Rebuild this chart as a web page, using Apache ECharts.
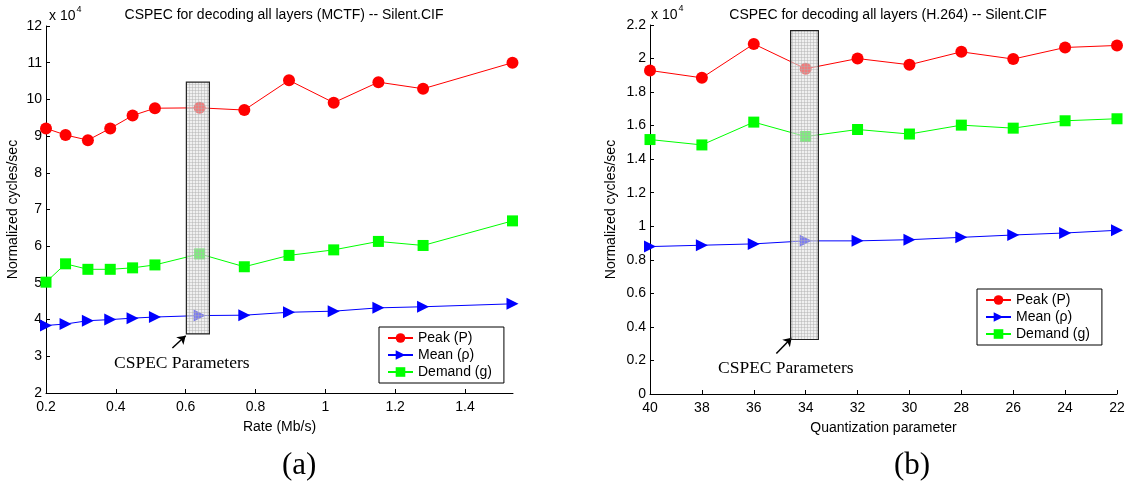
<!DOCTYPE html>
<html>
<head>
<meta charset="utf-8">
<script src="https://cdn.jsdelivr.net/npm/echarts@6/dist/echarts.min.js"></script>
<style>
  html, body { margin: 0; padding: 0; background: #fff; }
  #chart { width: 1128px; height: 481px; }
</style>
</head>
<body>
<div id="chart"></div>
<script>
// (a) MCTF, values in units of 10^4 cycles/sec
const rateMbps = [0.2, 0.256, 0.32, 0.384, 0.448, 0.512, 0.64, 0.768, 0.896, 1.024, 1.152, 1.28, 1.536];
const mctfPeak = [9.21, 9.03, 8.89, 9.21, 9.56, 9.76, 9.77, 9.71, 10.52, 9.91, 10.47, 10.29, 11.0];
const mctfMean = [3.84, 3.88, 3.97, 4.0, 4.04, 4.07, 4.11, 4.12, 4.2, 4.23, 4.32, 4.35, 4.43];
const mctfDemand = [5.02, 5.52, 5.37, 5.37, 5.41, 5.49, 5.79, 5.44, 5.75, 5.9, 6.13, 6.02, 6.69];

// (b) H.264, values in units of 10^4 cycles/sec
const qp = [40, 38, 36, 34, 32, 30, 28, 26, 24, 22];
const h264Peak = [1.929, 1.885, 2.087, 1.939, 2.0, 1.963, 2.04, 1.997, 2.066, 2.078];
const h264Mean = [0.879, 0.887, 0.895, 0.913, 0.913, 0.92, 0.934, 0.948, 0.96, 0.976];
const h264Demand = [1.517, 1.485, 1.621, 1.535, 1.577, 1.55, 1.603, 1.585, 1.629, 1.641];

// highlighted "CSPEC Parameters" boxes [x0, x1, y0, y1]
const boxA = [0.602, 0.668, 3.61, 10.47];
const boxB = [34.58, 33.51, 0.325, 2.166];
const arrowA = [[0.562, 3.225], [0.6, 3.56]];
const arrowB = [[35.13, 0.242], [34.54, 0.335]];

const names = ['Peak (P)', 'Mean (ρ)', 'Demand (g)'];

function zip(xs, ys) { return xs.map((x, i) => [x, ys[i]]); }

// little grid texture for the boxes
const pat = document.createElement('canvas');
pat.width = 3; pat.height = 3;
const pc = pat.getContext('2d');
pc.fillStyle = 'rgba(228,228,228,0.55)';
pc.fillRect(0, 0, 3, 3);
pc.fillStyle = 'rgba(175,175,175,0.45)';
pc.fillRect(0, 0, 3, 1);
pc.fillRect(0, 0, 1, 3);

const font = 'Liberation Sans, Arial, sans-serif';

function lineSeries(name, data, idx, kind) {
  const s = {
    name: name,
    type: 'line',
    xAxisIndex: idx,
    yAxisIndex: idx,
    data: data,
    lineStyle: { width: 1 },
    emphasis: { disabled: true },
    animation: false,
    z: 2
  };
  if (kind === 'peak') {
    s.color = '#ff0000'; s.symbol = 'circle'; s.symbolSize = 12;
  } else if (kind === 'mean') {
    s.color = '#0000ff'; s.symbol = 'triangle'; s.symbolSize = 12; s.symbolRotate = -90;
  } else {
    s.color = '#00ff00'; s.symbol = 'rect'; s.symbolSize = 11;
  }
  s.itemStyle = { color: s.color, opacity: 1 };
  return s;
}

function boxSeries(box, arrow, idx) {
  return {
    type: 'custom',
    xAxisIndex: idx,
    yAxisIndex: idx,
    data: [box],
    z: 5,
    silent: true,
    animation: false,
    renderItem: function (params, api) {
      const p0 = api.coord([api.value(0), api.value(3)]);
      const p1 = api.coord([api.value(1), api.value(2)]);
      return {
        type: 'rect',
        shape: {
          x: Math.min(p0[0], p1[0]),
          y: Math.min(p0[1], p1[1]),
          width: Math.abs(p1[0] - p0[0]),
          height: Math.abs(p1[1] - p0[1])
        },
        style: {
          fill: { image: pat, repeat: 'repeat' },
          stroke: '#222',
          lineWidth: 1.2
        }
      };
    },
    markLine: {
      silent: true,
      symbol: ['none', 'arrow'],
      symbolSize: 8,
      label: { show: false },
      lineStyle: { color: '#000', width: 1.5, type: 'solid' },
      data: [[{ coord: arrow[0] }, { coord: arrow[1] }]]
    }
  };
}

function yAxisBase(idx, min, max, interval) {
  return {
    type: 'value',
    gridIndex: idx,
    min: min, max: max, interval: interval,
    name: 'Normalized cycles/sec',
    nameLocation: 'middle',
    nameGap: idx === 0 ? 26 : 32,
    nameTextStyle: { fontFamily: font, fontSize: 14, color: '#000' },
    axisLine: { show: true, lineStyle: { color: '#000', width: 1 } },
    axisTick: { show: true, inside: true, length: 4, lineStyle: { color: '#000' } },
    axisLabel: { fontFamily: font, fontSize: 14, color: '#000', margin: 4 },
    splitLine: { show: false }
  };
}

function xAxisBase(idx, name) {
  return {
    type: 'value', gridIndex: idx,
    name: name, nameLocation: 'middle', nameGap: 27,
    nameTextStyle: { fontFamily: font, fontSize: 14, color: '#000' },
    axisLine: { show: true, onZero: false, lineStyle: { color: '#000', width: 1 } },
    axisTick: { show: true, inside: true, length: 4, lineStyle: { color: '#000' } },
    axisLabel: { fontFamily: font, fontSize: 14, color: '#000', margin: 7 },
    splitLine: { show: false }
  };
}

function legendBase(left, top) {
  return {
    data: names, orient: 'vertical', left: left, top: top,
    backgroundColor: '#fff', borderColor: '#000', borderWidth: 1,
    padding: [4, 12, 4, 8], itemGap: 3, itemWidth: 25, itemHeight: 12,
    textStyle: { fontFamily: font, fontSize: 14, color: '#000' },
    selectedMode: false
  };
}

const sup = {
  a: { fontFamily: font, fontSize: 14, fill: '#000', verticalAlign: 'bottom', lineHeight: 18 },
  s: { fontFamily: font, fontSize: 9, fill: '#000', verticalAlign: 'top', lineHeight: 18, padding: [0, 0, 8, 1] }
};
const serif = '"Liberation Serif", "Times New Roman", serif';

const chart = echarts.init(document.getElementById('chart'));

const xA = xAxisBase(0, 'Rate (Mb/s)');
xA.min = 0.2; xA.max = 1.5375; xA.interval = 0.2;
xA.axisLabel.showMaxLabel = false;
const xB = xAxisBase(1, 'Quantization parameter');
xB.min = 22; xB.max = 40; xB.interval = 2; xB.inverse = true;

const option = {
  backgroundColor: '#fff',
  animation: false,
  title: [
    {
      text: 'CSPEC for decoding all layers (MCTF) -- Silent.CIF',
      left: 279, top: 3, textAlign: 'center',
      textStyle: { fontFamily: font, fontSize: 14, fontWeight: 'normal', color: '#000' }
    },
    {
      text: 'CSPEC for decoding all layers (H.264) -- Silent.CIF',
      left: 883, top: 3, textAlign: 'center',
      textStyle: { fontFamily: font, fontSize: 14, fontWeight: 'normal', color: '#000' }
    }
  ],
  grid: [
    { left: 46, right: 615, top: 26, bottom: 88 },
    { left: 650, right: 11, top: 25, bottom: 87 }
  ],
  xAxis: [xA, xB],
  yAxis: [
    yAxisBase(0, 2, 12, 1),
    yAxisBase(1, 0, 2.2, 0.2)
  ],
  legend: [legendBase(379, 327), legendBase(977, 289)],
  graphic: [
    { type: 'text', left: 49, top: 5, style: { text: '{a|x 10}{s|4}', rich: sup } },
    { type: 'text', left: 651, top: 4, style: { text: '{a|x 10}{s|4}', rich: sup } },
    { type: 'text', left: 114, top: 354, style: { text: 'CSPEC Parameters', font: '17.5px ' + serif, fill: '#000' } },
    { type: 'text', left: 718, top: 359, style: { text: 'CSPEC Parameters', font: '17.5px ' + serif, fill: '#000' } },
    { type: 'text', left: 282, top: 450, style: { text: '(a)', font: '31px ' + serif, fill: '#000' } },
    { type: 'text', left: 894, top: 450, style: { text: '(b)', font: '31px ' + serif, fill: '#000' } }
  ],
  series: [
    lineSeries(names[0], zip(rateMbps, mctfPeak), 0, 'peak'),
    lineSeries(names[1], zip(rateMbps, mctfMean), 0, 'mean'),
    lineSeries(names[2], zip(rateMbps, mctfDemand), 0, 'demand'),
    boxSeries(boxA, arrowA, 0),
    lineSeries(names[0], zip(qp, h264Peak), 1, 'peak'),
    lineSeries(names[1], zip(qp, h264Mean), 1, 'mean'),
    lineSeries(names[2], zip(qp, h264Demand), 1, 'demand'),
    boxSeries(boxB, arrowB, 1)
  ]
};

chart.setOption(option);
</script>
</body>
</html>
